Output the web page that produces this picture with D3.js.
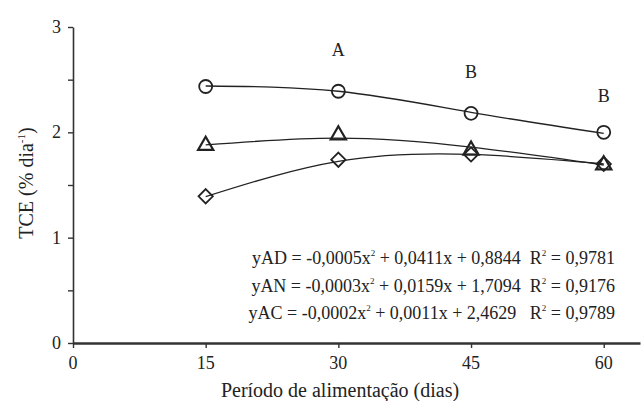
<!DOCTYPE html>
<html><head><meta charset="utf-8">
<script src="https://cdn.jsdelivr.net/npm/d3@7/dist/d3.min.js"></script>
<style>body{margin:0;background:#fff}svg{display:block}</style>
</head><body><svg id="c" width="643" height="401"></svg>
<script>
const days = [15, 30, 45, 60];
const xTicks = [0, 15, 30, 45, 60];
const yTicks = [0, 1, 2, 3];
const yMinor = [0.5, 1.5, 2.5];
// observed means
const obsAC = [2.435, 2.39, 2.18, 2.0];   // circles
const obsAN = [1.875, 1.975, 1.83, 1.69]; // triangles
const obsAD = [1.393, 1.74, 1.79, 1.70];  // diamonds
// fitted trend lines
const fitAC = [2.44, 2.39, 2.19, 1.99];
const fitAN = [1.88, 1.945, 1.86, 1.69];
const fitAD = [1.39, 1.725, 1.79, 1.70];
const letterDays = [30, 45, 60];
const letters = ["A", "B", "B"];
const letterVals = [2.72, 2.52, 2.29];
const equations = [
  ["yAD = -0,0005x", "2", " + 0,0411x + 0,8844\u00A0\u00A0R", "2", " = 0,9781"],
  ["yAN = -0,0003x", "2", " + 0,0159x + 1,7094\u00A0\u00A0R", "2", " = 0,9176"],
  ["yAC = -0,0002x", "2", " + 0,0011x + 2,4629\u00A0\u00A0\u00A0R", "2", " = 0,9789"]
];

const FONT = "'Liberation Serif'";
const txt = "#222";
const ink = "#333";
const svg = d3.select("#c");
const x = d3.scaleLinear().domain([0, 64.1]).range([73, 640]);
const y = d3.scaleLinear().domain([0, 3]).range([343, 27]);

// axis titles (text first)
svg.append("text").attr("x", 340).attr("y", 397).attr("text-anchor", "middle")
  .attr("font-family", FONT).attr("fill", txt).attr("font-size", 20)
  .text("Período de alimentação (dias)");
const yt = svg.append("text").attr("transform", "translate(33,183) rotate(-90)")
  .attr("font-family", FONT).attr("fill", txt).attr("text-anchor", "middle").attr("font-size", 20);
yt.append("tspan").attr("font-family", FONT).text("TCE (% dia");
yt.append("tspan").attr("font-family", FONT).attr("font-size", 11).attr("dy", -8).text("-1");
yt.append("tspan").attr("font-family", FONT).attr("dy", 8).text(")");

// tick labels
svg.append("g").selectAll("text").data(yTicks).join("text")
  .attr("x", 61).attr("y", d => y(d)).attr("dy", "0.34em").attr("text-anchor", "end")
  .attr("font-family", FONT).attr("font-size", 18).attr("fill", txt).text(d => d);
svg.append("g").selectAll("text").data(xTicks).join("text")
  .attr("x", d => x(d)).attr("y", 369).attr("text-anchor", "middle")
  .attr("font-family", FONT).attr("font-size", 18).attr("fill", txt).text(d => d);

// letters
svg.append("g").selectAll("text").data(letters).join("text")
  .attr("x", (d, i) => x(letterDays[i])).attr("y", (d, i) => y(letterVals[i]))
  .attr("font-family", FONT).attr("fill", txt).attr("text-anchor", "middle").attr("font-size", 18).text(d => d);

// equations
equations.forEach((e, i) => {
  const t = svg.append("text").attr("x", 615).attr("y", 264 + i * 27.5)
    .attr("text-anchor", "end").attr("font-size", 18).attr("font-family", FONT).attr("fill", txt);
  t.append("tspan").attr("font-family", FONT).text(e[0]);
  t.append("tspan").attr("font-family", FONT).attr("font-size", 9).attr("dy", -8).text(e[1]);
  t.append("tspan").attr("font-family", FONT).attr("dy", 8).text(e[2]);
  t.append("tspan").attr("font-family", FONT).attr("font-size", 9).attr("dy", -8).text(e[3]);
  t.append("tspan").attr("font-family", FONT).attr("dy", 8).text(e[4]);
});

// axes (lines and ticks only)
svg.append("g").attr("transform", "translate(73,0)")
  .call(d3.axisLeft(y).tickValues(yTicks.concat(yMinor)).tickSize(5).tickSizeOuter(0).tickFormat(""));
const xAx = svg.append("g").attr("transform", "translate(0,343)")
  .call(d3.axisBottom(x).tickValues(xTicks).tickSize(5).tickSizeOuter(0).tickFormat(""));
svg.selectAll(".domain").attr("stroke", ink).attr("stroke-width", 1.6);
xAx.select(".domain").attr("stroke-width", 2.4);
svg.selectAll(".tick line").attr("stroke", ink).attr("stroke-width", 1.4);
svg.selectAll(".tick text").remove();

// trend lines
const line = d3.line().x((d, i) => x(days[i])).y(d => y(d)).curve(d3.curveNatural);
[fitAC, fitAN, fitAD].forEach(f => {
  svg.append("path").attr("d", line(f)).attr("fill", "none").attr("stroke", "#222").attr("stroke-width", 1.3);
});

// markers
svg.append("g").selectAll("path").data(obsAD).join("path")
  .attr("d", d3.symbol().type(d3.symbolDiamond2).size(130))
  .attr("transform", (d, i) => `translate(${x(days[i])},${y(d)})`)
  .attr("fill", "none").attr("stroke", "#222").attr("stroke-width", 1.8);
svg.append("g").selectAll("path").data(obsAN).join("path")
  .attr("d", d3.symbol().type(d3.symbolTriangle).size(100))
  .attr("transform", (d, i) => `translate(${x(days[i])},${y(d)})`)
  .attr("fill", "none").attr("stroke", "#222").attr("stroke-width", 2.2);
svg.append("g").selectAll("circle").data(obsAC).join("circle")
  .attr("cx", (d, i) => x(days[i])).attr("cy", d => y(d)).attr("r", 6.5)
  .attr("fill", "none").attr("stroke", "#222").attr("stroke-width", 1.8);
</script></body></html>
